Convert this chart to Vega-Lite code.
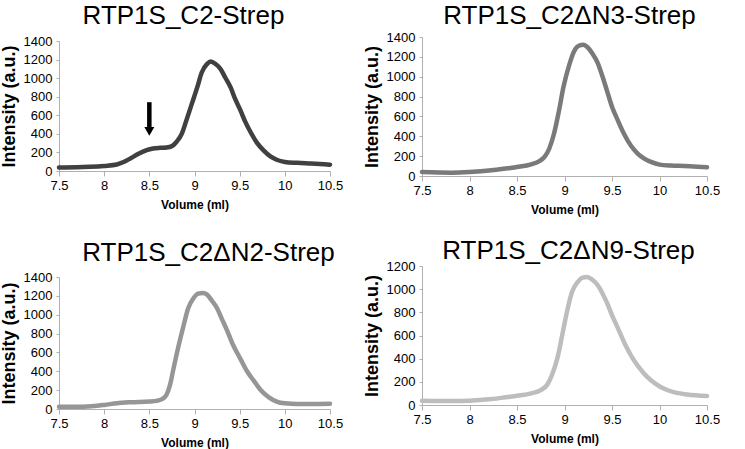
{
  "$schema": "https://vega.github.io/schema/vega-lite/v6.json",
  "padding": {"left": 0, "top": 2, "right": 5, "bottom": 0},
  "background": "white",
  "config": {
    "font": "Liberation Sans",
    "view": {"stroke": null},
    "title": {"font": "Liberation Sans", "fontSize": 26, "fontWeight": "normal", "color": "#000000", "frame": "group", "anchor": "middle"},
    "axis": {
      "grid": false,
      "domainColor": "#b0b0b0",
      "tickColor": "#b0b0b0",
      "labelFont": "Liberation Sans",
      "labelFontSize": 13,
      "labelColor": "#000000",
      "labelFlush": false,
      "labelOverlap": false,
      "titleFont": "Liberation Sans",
      "titleColor": "#000000",
      "titleFontWeight": "bold"
    },
    "axisX": {"tickSize": 5, "labelPadding": 3, "titleFontSize": 12, "titlePadding": 7},
    "axisY": {"tickSize": 3, "labelPadding": 4, "titleFontSize": 18, "titlePadding": 5},
    "line": {"strokeWidth": 4.5, "strokeCap": "round", "interpolate": "monotone"}
  },
  "datasets": {
    "c2": [
      {"v": 7.5, "i": 38}, {"v": 7.7, "i": 40}, {"v": 7.84, "i": 45}, {"v": 8.0, "i": 55}, {"v": 8.14, "i": 70},
      {"v": 8.21, "i": 95}, {"v": 8.29, "i": 135}, {"v": 8.38, "i": 185}, {"v": 8.47, "i": 224}, {"v": 8.54, "i": 242},
      {"v": 8.62, "i": 250}, {"v": 8.69, "i": 254}, {"v": 8.75, "i": 268}, {"v": 8.8, "i": 313}, {"v": 8.86, "i": 402},
      {"v": 8.91, "i": 545}, {"v": 8.97, "i": 723}, {"v": 9.03, "i": 900}, {"v": 9.08, "i": 1061}, {"v": 9.14, "i": 1153},
      {"v": 9.18, "i": 1178}, {"v": 9.23, "i": 1155}, {"v": 9.29, "i": 1096}, {"v": 9.34, "i": 1007}, {"v": 9.4, "i": 900},
      {"v": 9.45, "i": 776}, {"v": 9.51, "i": 651}, {"v": 9.56, "i": 534}, {"v": 9.62, "i": 420}, {"v": 9.69, "i": 306},
      {"v": 9.77, "i": 217}, {"v": 9.84, "i": 157}, {"v": 9.91, "i": 121}, {"v": 10.0, "i": 98}, {"v": 10.14, "i": 88},
      {"v": 10.29, "i": 80}, {"v": 10.5, "i": 68}
    ],
    "n3": [
      {"v": 7.5, "i": 40}, {"v": 7.81, "i": 34}, {"v": 8.0, "i": 40}, {"v": 8.23, "i": 57}, {"v": 8.4, "i": 78},
      {"v": 8.5, "i": 91}, {"v": 8.65, "i": 118}, {"v": 8.73, "i": 148}, {"v": 8.79, "i": 192}, {"v": 8.84, "i": 277},
      {"v": 8.89, "i": 428}, {"v": 8.94, "i": 648}, {"v": 8.99, "i": 901}, {"v": 9.05, "i": 1120}, {"v": 9.1, "i": 1255},
      {"v": 9.15, "i": 1312}, {"v": 9.2, "i": 1322}, {"v": 9.24, "i": 1299}, {"v": 9.29, "i": 1238}, {"v": 9.35, "i": 1137},
      {"v": 9.4, "i": 1002}, {"v": 9.45, "i": 850}, {"v": 9.5, "i": 698}, {"v": 9.56, "i": 563}, {"v": 9.63, "i": 418},
      {"v": 9.7, "i": 304}, {"v": 9.77, "i": 226}, {"v": 9.84, "i": 175}, {"v": 9.91, "i": 142}, {"v": 10.0, "i": 115},
      {"v": 10.12, "i": 105}, {"v": 10.26, "i": 101}, {"v": 10.4, "i": 94}, {"v": 10.5, "i": 88}
    ],
    "n2": [
      {"v": 7.5, "i": 25}, {"v": 7.77, "i": 25}, {"v": 8.0, "i": 43}, {"v": 8.14, "i": 62}, {"v": 8.29, "i": 72},
      {"v": 8.5, "i": 79}, {"v": 8.58, "i": 86}, {"v": 8.64, "i": 104}, {"v": 8.69, "i": 151}, {"v": 8.73, "i": 259},
      {"v": 8.77, "i": 439}, {"v": 8.82, "i": 655}, {"v": 8.88, "i": 889}, {"v": 8.93, "i": 1069}, {"v": 8.99, "i": 1177},
      {"v": 9.04, "i": 1224}, {"v": 9.09, "i": 1231}, {"v": 9.14, "i": 1213}, {"v": 9.19, "i": 1152}, {"v": 9.25, "i": 1069},
      {"v": 9.3, "i": 961}, {"v": 9.36, "i": 835}, {"v": 9.43, "i": 673}, {"v": 9.51, "i": 529}, {"v": 9.58, "i": 403},
      {"v": 9.66, "i": 295}, {"v": 9.73, "i": 205}, {"v": 9.82, "i": 126}, {"v": 9.91, "i": 79}, {"v": 10.0, "i": 60},
      {"v": 10.14, "i": 52}, {"v": 10.29, "i": 52}, {"v": 10.5, "i": 55}
    ],
    "n9": [
      {"v": 7.5, "i": 37}, {"v": 7.81, "i": 34}, {"v": 8.0, "i": 37}, {"v": 8.23, "i": 51}, {"v": 8.4, "i": 69},
      {"v": 8.5, "i": 80}, {"v": 8.65, "i": 100}, {"v": 8.75, "i": 129}, {"v": 8.82, "i": 177}, {"v": 8.87, "i": 263},
      {"v": 8.93, "i": 420}, {"v": 8.98, "i": 620}, {"v": 9.03, "i": 820}, {"v": 9.08, "i": 977}, {"v": 9.14, "i": 1063},
      {"v": 9.19, "i": 1100}, {"v": 9.24, "i": 1106}, {"v": 9.29, "i": 1083}, {"v": 9.35, "i": 1034}, {"v": 9.4, "i": 963},
      {"v": 9.45, "i": 877}, {"v": 9.5, "i": 777}, {"v": 9.57, "i": 649}, {"v": 9.64, "i": 520}, {"v": 9.71, "i": 414},
      {"v": 9.78, "i": 329}, {"v": 9.87, "i": 243}, {"v": 9.96, "i": 183}, {"v": 10.05, "i": 140}, {"v": 10.15, "i": 111},
      {"v": 10.29, "i": 91}, {"v": 10.5, "i": 77}
    ],
    "arrow": [{"v": 8.5, "top": 741, "bottom": 460, "head": 427}],
    "empty": []
  },
  "hconcat": [
    {
      "spacing": 0.01,
      "vconcat": [
        {"width": 1, "height": 0.01, "data": {"name": "empty"}, "mark": "rect", "encoding": {}},
        {
          "spacing": 30,
          "vconcat": [
            {
              "title": {"text": "RTP1S_C2-Strep", "dx": -11, "offset": 6},
              "width": 271, "height": 130,
              "layer": [
                {
                  "data": {"name": "c2"},
                  "mark": {"type": "line", "color": "#404040"},
                  "encoding": {
                    "x": {"field": "v", "type": "quantitative", "scale": {"domain": [7.5, 10.5], "nice": false, "zero": false}, "axis": {"values": [7.5, 8, 8.5, 9, 9.5, 10, 10.5], "format": "~g", "title": "Volume (ml)"}},
                    "y": {"field": "i", "type": "quantitative", "scale": {"domain": [0, 1400], "nice": false}, "axis": {"values": [0, 200, 400, 600, 800, 1000, 1200, 1400], "format": "d", "title": "Intensity (a.u.)"}}
                  }
                },
                {
                  "data": {"name": "arrow"},
                  "mark": {"type": "rule", "color": "#000000", "strokeWidth": 4.5},
                  "encoding": {
                    "x": {"field": "v", "type": "quantitative", "scale": {"domain": [7.5, 10.5], "nice": false, "zero": false}, "axis": {"values": [7.5, 8, 8.5, 9, 9.5, 10, 10.5], "format": "~g", "title": "Volume (ml)"}},
                    "y": {"field": "top", "type": "quantitative", "scale": {"domain": [0, 1400], "nice": false}, "axis": {"values": [0, 200, 400, 600, 800, 1000, 1200, 1400], "format": "d", "title": "Intensity (a.u.)"}},
                    "y2": {"field": "bottom"}
                  }
                },
                {
                  "data": {"name": "arrow"},
                  "mark": {"type": "point", "shape": "triangle-down", "filled": true, "color": "#000000", "size": 100, "opacity": 1},
                  "encoding": {
                    "x": {"field": "v", "type": "quantitative", "scale": {"domain": [7.5, 10.5], "nice": false, "zero": false}, "axis": {"values": [7.5, 8, 8.5, 9, 9.5, 10, 10.5], "format": "~g", "title": "Volume (ml)"}},
                    "y": {"field": "head", "type": "quantitative", "scale": {"domain": [0, 1400], "nice": false}, "axis": {"values": [0, 200, 400, 600, 800, 1000, 1200, 1400], "format": "d", "title": "Intensity (a.u.)"}}
                  }
                }
              ]
            },
            {
              "title": {"text": "RTP1S_C2ΔN2-Strep", "dx": 14, "offset": 5},
              "width": 271, "height": 132,
              "data": {"name": "n2"},
              "mark": {"type": "line", "color": "#969696"},
              "encoding": {
                "x": {"field": "v", "type": "quantitative", "scale": {"domain": [7.5, 10.5], "nice": false, "zero": false}, "axis": {"values": [7.5, 8, 8.5, 9, 9.5, 10, 10.5], "format": "~g", "title": "Volume (ml)"}},
                "y": {"field": "i", "type": "quantitative", "scale": {"domain": [0, 1400], "nice": false}, "axis": {"values": [0, 200, 400, 600, 800, 1000, 1200, 1400], "format": "d", "title": "Intensity (a.u.)"}}
              }
            }
          ]
        }
      ]
    },
    {
      "spacing": 0.01,
      "vconcat": [
        {"width": 1, "height": 0.01, "data": {"name": "empty"}, "mark": "rect", "encoding": {}},
        {
          "spacing": 23,
          "vconcat": [
            {
              "title": {"text": "RTP1S_C2ΔN3-Strep", "dx": 5, "offset": 2},
              "width": 285, "height": 139,
              "data": {"name": "n3"},
              "mark": {"type": "line", "color": "#7a7a7a"},
              "encoding": {
                "x": {"field": "v", "type": "quantitative", "scale": {"domain": [7.5, 10.5], "nice": false, "zero": false}, "axis": {"values": [7.5, 8, 8.5, 9, 9.5, 10, 10.5], "format": "~g", "title": "Volume (ml)"}},
                "y": {"field": "i", "type": "quantitative", "scale": {"domain": [0, 1400], "nice": false}, "axis": {"values": [0, 200, 400, 600, 800, 1000, 1200, 1400], "format": "d", "title": "Intensity (a.u.)"}}
              }
            },
            {
              "title": {"text": "RTP1S_C2ΔN9-Strep", "dx": 4, "offset": -4},
              "width": 285, "height": 139,
              "data": {"name": "n9"},
              "mark": {"type": "line", "color": "#bdbdbd"},
              "encoding": {
                "x": {"field": "v", "type": "quantitative", "scale": {"domain": [7.5, 10.5], "nice": false, "zero": false}, "axis": {"values": [7.5, 8, 8.5, 9, 9.5, 10, 10.5], "format": "~g", "title": "Volume (ml)"}},
                "y": {"field": "i", "type": "quantitative", "scale": {"domain": [0, 1200], "nice": false}, "axis": {"values": [0, 200, 400, 600, 800, 1000, 1200], "format": "d", "title": "Intensity (a.u.)"}}
              }
            }
          ]
        }
      ]
    }
  ],
  "spacing": 20
}
